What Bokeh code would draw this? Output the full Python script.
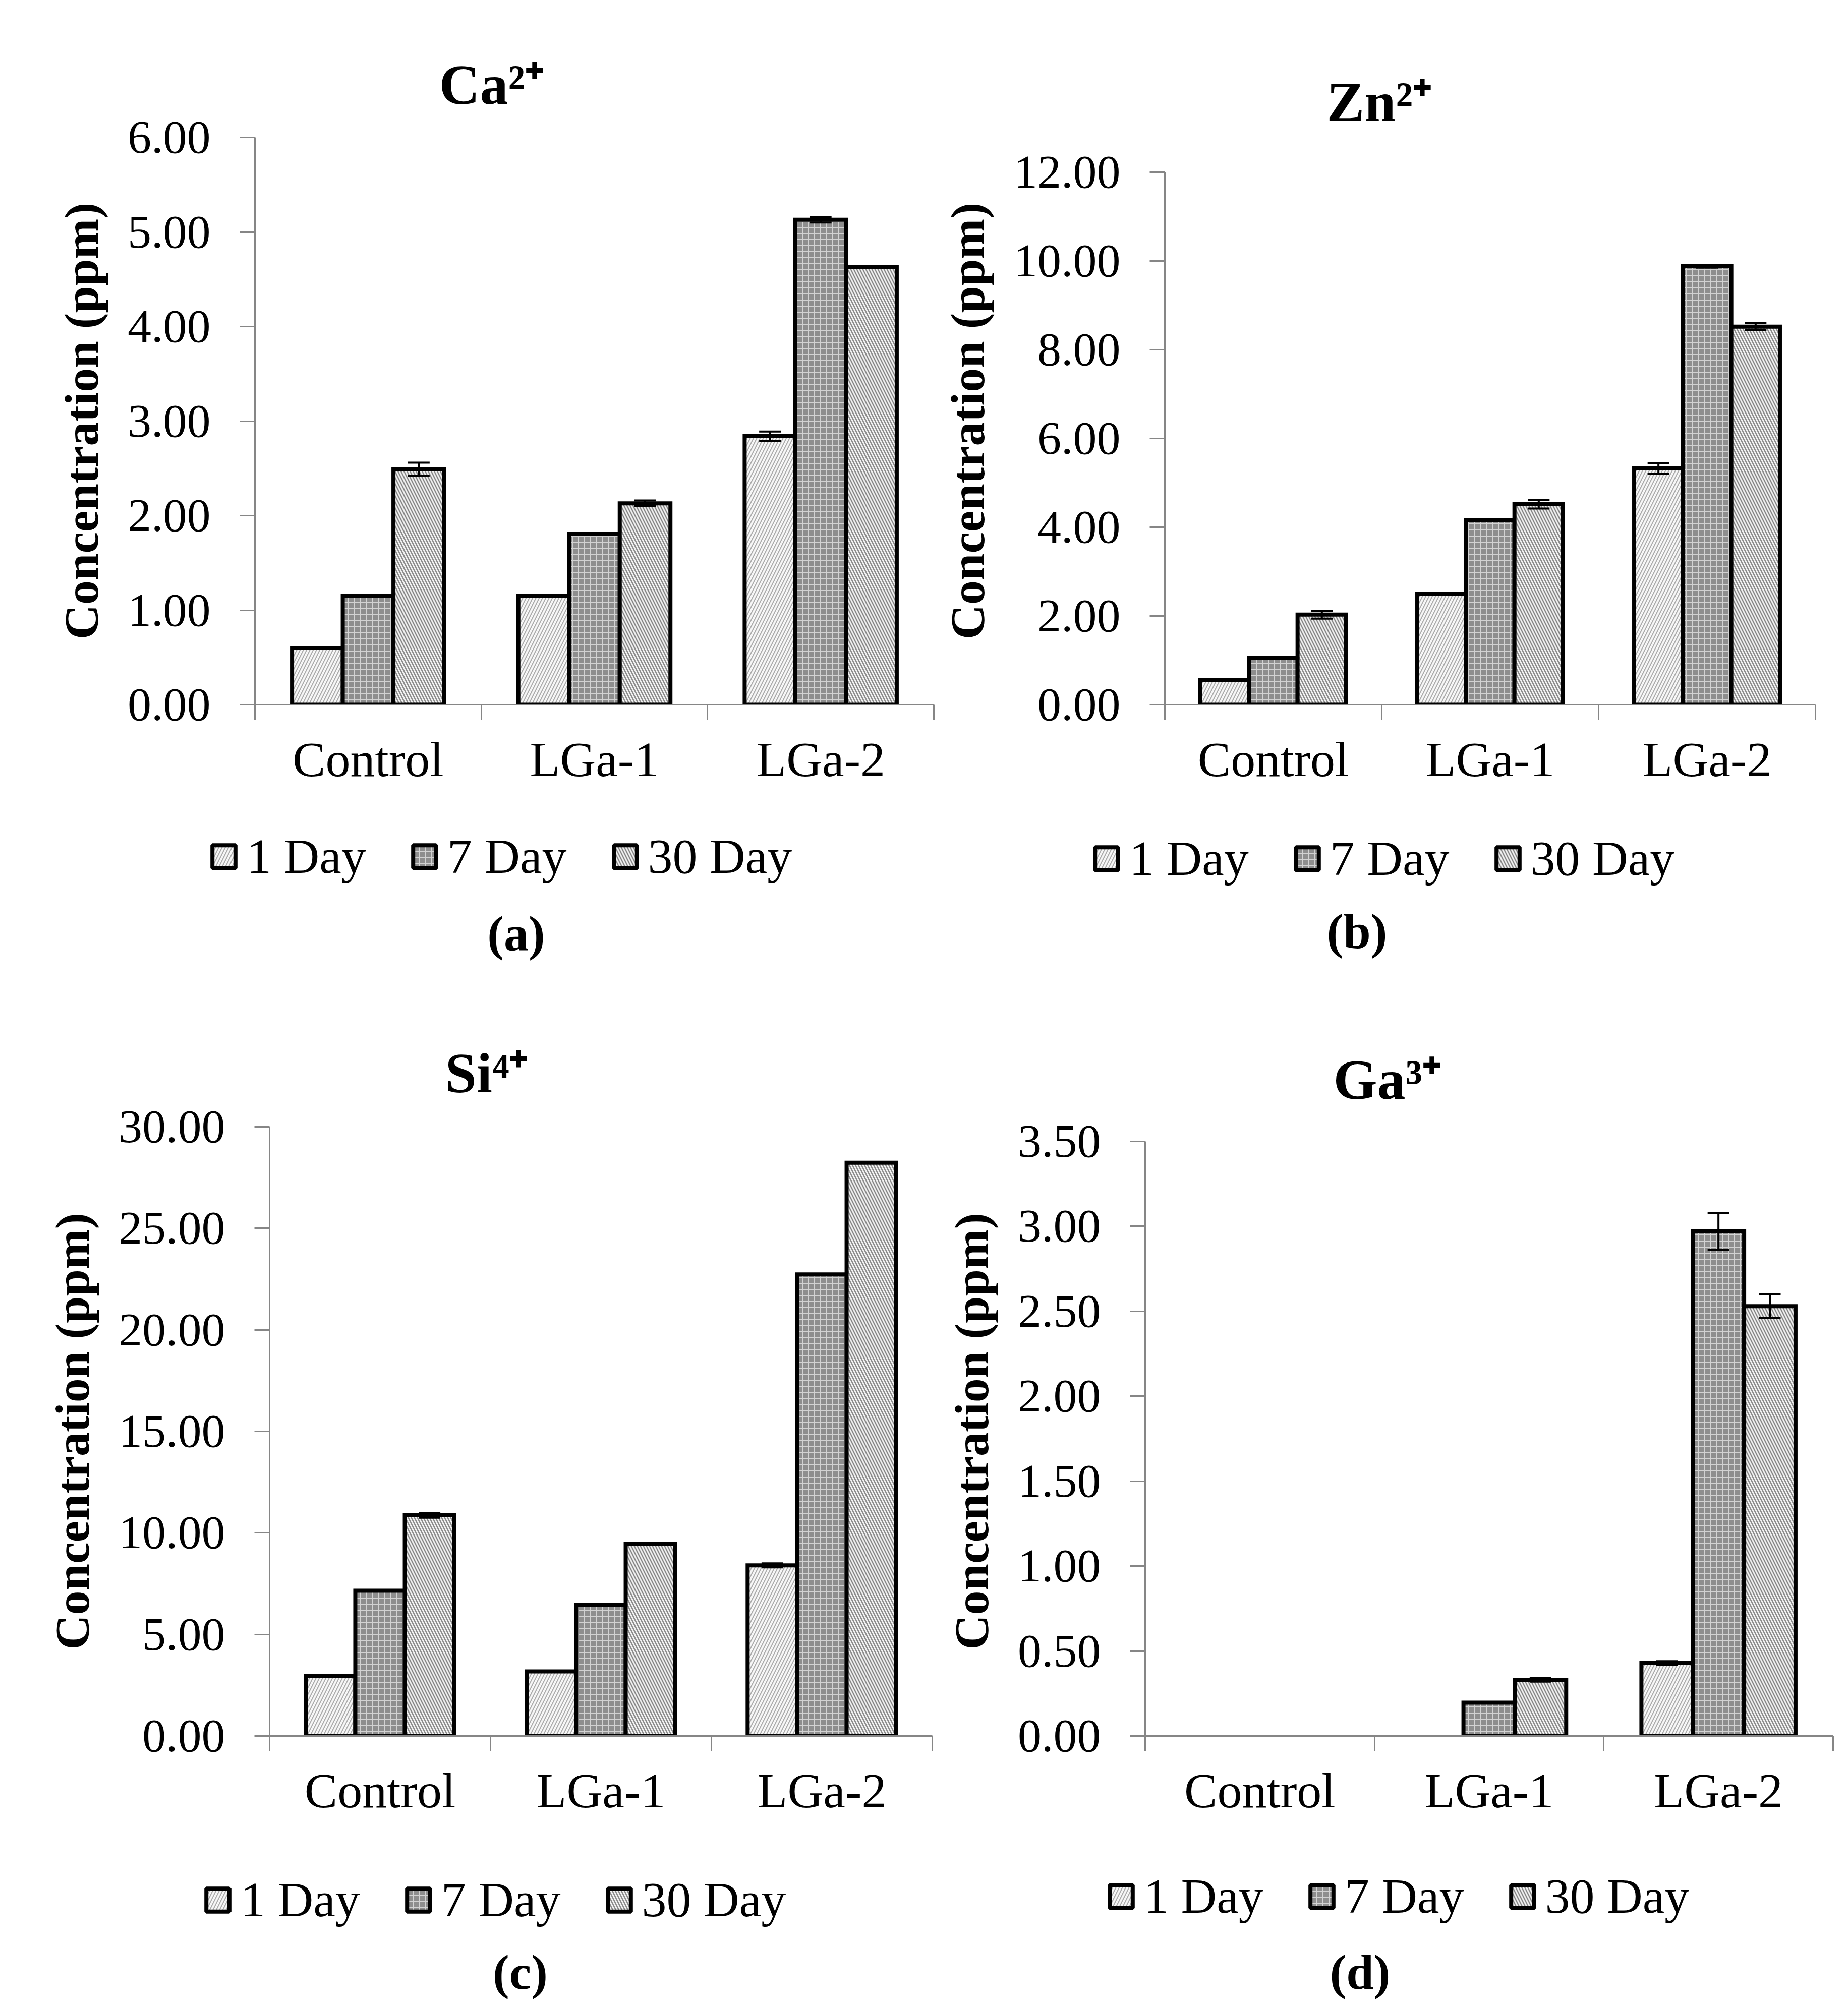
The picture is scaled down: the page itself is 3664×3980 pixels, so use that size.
from bokeh.plotting import figure
from bokeh.models import (ColumnDataSource, LinearAxis, FixedTicker, NumeralTickFormatter,
                          Range1d, Legend, LegendItem, Whisker, TeeHead, Label)
from bokeh.layouts import column, row
from bokeh.embed import file_html
from bokeh.resources import INLINE

# ---------------- data ----------------
categories = ["Control", "LGa-1", "LGa-2"]
series = ["1 Day", "7 Day", "30 Day"]
y_label = "Concentration (ppm)"

ca_1d = [0.60, 1.15, 2.84]
ca_7d = [1.15, 1.81, 5.13]
ca_30d = [2.49, 2.13, 4.63]
ca_err_1d = [0.0, 0.0, 0.05]
ca_err_7d = [0.0, 0.0, 0.03]
ca_err_30d = [0.07, 0.03, 0.01]

zn_1d = [0.55, 2.50, 5.33]
zn_7d = [1.05, 4.16, 9.88]
zn_30d = [2.03, 4.52, 8.52]
zn_err_1d = [0.0, 0.0, 0.12]
zn_err_7d = [0.0, 0.0, 0.03]
zn_err_30d = [0.09, 0.10, 0.08]

si_1d = [2.95, 3.18, 8.40]
si_7d = [7.15, 6.45, 22.73]
si_30d = [10.87, 9.46, 28.23]
si_err_1d = [0.0, 0.0, 0.10]
si_err_7d = [0.0, 0.0, 0.0]
si_err_30d = [0.12, 0.0, 0.0]

ga_1d = [0.0, 0.0, 0.43]
ga_7d = [0.0, 0.196, 2.97]
ga_30d = [0.0, 0.33, 2.53]
ga_err_1d = [0.0, 0.0, 0.01]
ga_err_7d = [0.0, 0.0, 0.11]
ga_err_30d = [0.0, 0.01, 0.07]

ca_ticks = [0, 1, 2, 3, 4, 5, 6]
zn_ticks = [0, 2, 4, 6, 8, 10, 12]
si_ticks = [0, 5, 10, 15, 20, 25, 30]
ga_ticks = [0, 0.5, 1.0, 1.5, 2.0, 2.5, 3.0, 3.5]

# ---------------- styles ----------------
SERIF = "Liberation Serif"
AXIS_GREY = "#868686"
BAR_W = 0.224
OFFSETS = [-BAR_W, 0.0, BAR_W]
STYLES = [
    dict(fill_color="#f6f6f6", hatch_pattern="/", hatch_color="#aaaaaa", hatch_scale=13, hatch_weight=2),
    dict(fill_color="#8e8e8e", hatch_pattern="+", hatch_color="#d2d2d2", hatch_scale=12, hatch_weight=2),
    dict(fill_color="#f0f0f0", hatch_pattern="\\", hatch_color="#8a8a8a", hatch_scale=12, hatch_weight=2.5),
]
FAR = 1.0e6   # keeps the legend's proxy bars far out of view


def make_main(title, vals, errs, ticks, geo):
    ox, oy = geo["origin"]
    W, H = geo["width"], geo["main_h"]
    fl, fr = geo["frame_x"]
    T, B = geo["row_frame_y"]
    ax_top = geo["axis_top"]
    ymax = ticks[-1]
    yend = ymax * (B - T) / (B - ax_top)
    p = figure(width=W, height=H, output_backend="svg", toolbar_location=None,
               x_range=Range1d(0, len(categories)), y_range=Range1d(0, yend),
               x_axis_location=None, y_axis_location=None,
               min_border_left=fl - ox, min_border_right=ox + W - fr,
               min_border_top=T - oy, min_border_bottom=oy + H - B)
    p.outline_line_color = None
    p.background_fill_color = "white"
    p.border_fill_color = "white"
    p.grid.visible = False

    p.title.text = title
    p.title.align = "left"
    p.title.offset = geo["title_x"] - fl
    p.title.standoff = geo["title_standoff"]
    p.title.text_font = SERIF
    p.title.text_font_size = "112px"
    p.title.text_font_style = "bold"
    p.title.text_color = "black"

    yaxis = LinearAxis(ticker=FixedTicker(ticks=ticks),
                       formatter=NumeralTickFormatter(format="0.00"),
                       axis_label=y_label, bounds=(0, ymax))
    yaxis.axis_line_color = AXIS_GREY
    yaxis.axis_line_width = 3
    yaxis.major_tick_line_color = AXIS_GREY
    yaxis.major_tick_line_width = 3
    yaxis.major_tick_out = 30
    yaxis.major_tick_in = 0
    yaxis.minor_tick_line_color = None
    yaxis.major_label_standoff = 58
    yaxis.major_label_text_font = SERIF
    yaxis.major_label_text_font_size = "94px"
    yaxis.major_label_text_color = "black"
    yaxis.axis_label_text_font = SERIF
    yaxis.axis_label_text_font_size = "96px"
    yaxis.axis_label_text_font_style = "bold"
    yaxis.axis_label_text_color = "black"
    yaxis.axis_label_standoff = 35
    p.add_layout(yaxis, "left")

    centers = [i + 0.5 for i in range(len(categories))]
    bounds = [float(i) for i in range(len(categories) + 1)]
    xaxis = LinearAxis(ticker=FixedTicker(ticks=centers, minor_ticks=bounds),
                       major_label_overrides={c: lab for c, lab in zip(centers, categories)})
    xaxis.axis_line_color = AXIS_GREY
    xaxis.axis_line_width = 3
    xaxis.major_tick_line_color = None
    xaxis.major_tick_out = 0
    xaxis.major_tick_in = 0
    xaxis.minor_tick_line_color = AXIS_GREY
    xaxis.minor_tick_line_width = 3
    xaxis.minor_tick_out = 30
    xaxis.minor_tick_in = 0
    xaxis.major_label_standoff = 24
    xaxis.major_label_text_font = SERIF
    xaxis.major_label_text_font_size = "98px"
    xaxis.major_label_text_color = "black"
    p.add_layout(xaxis, "below")

    for k, s in enumerate(series):
        xs = [c + OFFSETS[k] for c, v in zip(centers, vals[k]) if v > 0]
        tops = [v for v in vals[k] if v > 0]
        src = ColumnDataSource(dict(x=xs, top=tops))
        p.vbar(x="x", top="top", bottom=0, width=BAR_W, source=src,
               line_color="black", line_width=8, line_join="miter", **STYLES[k])

        ex = [c + OFFSETS[k] for c, e in zip(centers, errs[k]) if e > 0]
        up = [v + e for v, e in zip(vals[k], errs[k]) if e > 0]
        lo = [v - e for v, e in zip(vals[k], errs[k]) if e > 0]
        if ex:
            esrc = ColumnDataSource(dict(base=ex, upper=up, lower=lo))
            w = Whisker(source=esrc, base="base", upper="upper", lower="lower",
                        line_color="black", line_width=4, level="annotation",
                        upper_head=TeeHead(size=43, line_width=4, line_color="black"),
                        lower_head=TeeHead(size=43, line_width=4, line_color="black"))
            p.add_layout(w)
    return p


def make_sub(letter, vals, geo):
    """Legend and panel letter, drawn in a strip below the chart."""
    ox, oy = geo["origin"]
    W = geo["width"]
    sy0 = oy + geo["main_h"]
    H = geo["sub_h"]
    s = figure(width=W, height=H, output_backend="svg", toolbar_location=None, title=None,
               x_range=Range1d(0, W), y_range=Range1d(-H - FAR, -FAR),
               x_axis_location=None, y_axis_location=None,
               min_border_left=0, min_border_right=0, min_border_top=0, min_border_bottom=0)
    s.outline_line_color = None
    s.background_fill_color = "white"
    s.border_fill_color = "white"
    s.grid.visible = False
    centers = [i + 0.5 for i in range(len(categories))]
    items = []
    for k, name in enumerate(series):
        src = ColumnDataSource(dict(x=centers, top=vals[k]))
        r = s.vbar(x="x", top="top", bottom=0, width=BAR_W, source=src,
                   line_color="black", line_width=8, **STYLES[k])
        r.visible = False          # legend swatch only
        items.append(LegendItem(label=name, renderers=[r]))
    lx, lbottom = geo["legend"]
    legend = Legend(items=items, orientation="horizontal", click_policy="none",
                    location=(lx - ox, (sy0 + H) - lbottom),
                    glyph_width=57, glyph_height=57, label_standoff=17, spacing=87,
                    padding=0, margin=0, border_line_color=None, background_fill_alpha=0,
                    label_text_font=SERIF, label_text_font_size="98px",
                    label_text_color="black")
    s.add_layout(legend)
    bx, bb = geo["letter"]
    s.add_layout(Label(x=bx - ox, y=-FAR - (bb - sy0), text=letter, text_font=SERIF,
                       text_font_size="98px", text_font_style="bold", text_align="center",
                       text_baseline="alphabetic", text_color="black"))
    return s


geo_a = dict(origin=(0, 0), width=1860, main_h=1640, sub_h=358, frame_x=(505, 1851),
             row_frame_y=(272, 1397), axis_top=272, title_x=870, title_standoff=86,
             legend=(415, 1754), letter=(1023, 1850))
geo_b = dict(origin=(1860, 0), width=1796, main_h=1640, sub_h=358, frame_x=(2309, 3599),
             row_frame_y=(272, 1397), axis_top=341, title_x=2630, title_standoff=18,
             legend=(2165, 1758), letter=(2690, 1846))
geo_c = dict(origin=(0, 1998), width=1860, main_h=1672, sub_h=302, frame_x=(534, 1848),
             row_frame_y=(2234, 3442), axis_top=2234, title_x=882, title_standoff=90,
             legend=(403, 3823), letter=(1031, 3910))
geo_d = dict(origin=(1860, 1998), width=1796, main_h=1672, sub_h=302, frame_x=(2270, 3634),
             row_frame_y=(2234, 3442), axis_top=2263, title_x=2643, title_standoff=64,
             legend=(2194, 3816), letter=(2696, 3910))

panels = [
    ("Ca²⁺", "(a)", [ca_1d, ca_7d, ca_30d], [ca_err_1d, ca_err_7d, ca_err_30d], ca_ticks, geo_a),
    ("Zn²⁺", "(b)", [zn_1d, zn_7d, zn_30d], [zn_err_1d, zn_err_7d, zn_err_30d], zn_ticks, geo_b),
    ("Si⁴⁺", "(c)", [si_1d, si_7d, si_30d], [si_err_1d, si_err_7d, si_err_30d], si_ticks, geo_c),
    ("Ga³⁺", "(d)", [ga_1d, ga_7d, ga_30d], [ga_err_1d, ga_err_7d, ga_err_30d], ga_ticks, geo_d),
]
cols = []
for title, letter, vals, errs, ticks, geo in panels:
    cols.append(column(make_main(title, vals, errs, ticks, geo), row(make_sub(letter, vals, geo))))

layout = column(row(cols[0], cols[1]), row(cols[2], cols[3]))
open("out.html", "w").write(file_html(layout, INLINE))
